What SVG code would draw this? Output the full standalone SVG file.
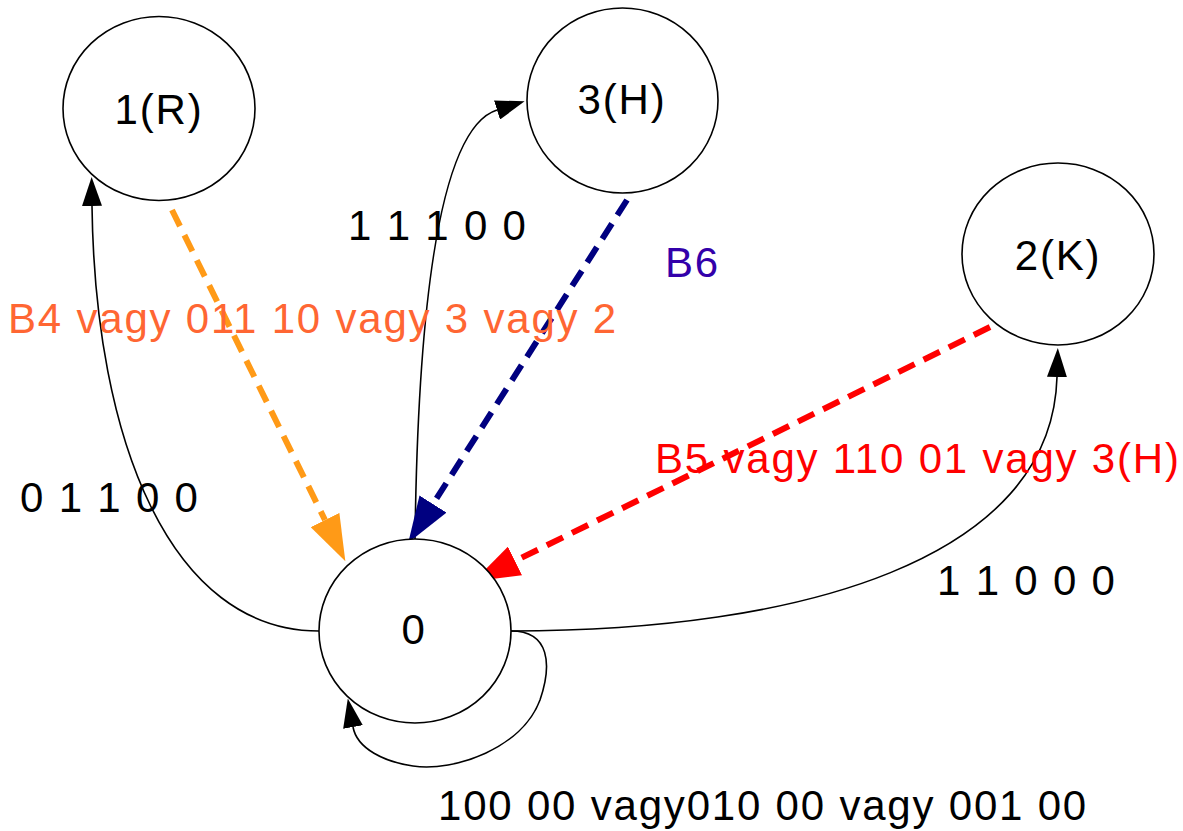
<svg xmlns="http://www.w3.org/2000/svg" width="1183" height="831" viewBox="0 0 1183 831">
<style>
text{font-family:"Liberation Sans",Arial,sans-serif;font-size:42px;letter-spacing:1.8px}
.node ellipse{fill:#fff;stroke:#000;stroke-width:1.6}
.node text{text-anchor:middle;fill:#000}
.edge{fill:none;stroke:#000;stroke-width:1.6}
.dash{fill:none;stroke-width:6;stroke-dasharray:18 10}
</style>
<defs>
<marker id="ab" viewBox="0 0 29 20" refX="0" refY="10" markerWidth="29" markerHeight="20" markerUnits="userSpaceOnUse" orient="auto"><path d="M0,0 L29,10 L0,20 z" fill="#000"/></marker>
<marker id="ao" viewBox="0 0 46 32" refX="0" refY="16" markerWidth="46" markerHeight="32" markerUnits="userSpaceOnUse" orient="auto"><path d="M0,0 L46,16 L0,32 z" fill="#FF9A17"/></marker>
<marker id="an" viewBox="0 0 46 32" refX="0" refY="16" markerWidth="46" markerHeight="32" markerUnits="userSpaceOnUse" orient="auto"><path d="M0,0 L46,16 L0,32 z" fill="#000080"/></marker>
<marker id="ar" viewBox="0 0 46 32" refX="0" refY="16" markerWidth="46" markerHeight="32" markerUnits="userSpaceOnUse" orient="auto"><path d="M0,0 L46,16 L0,32 z" fill="#FF0000"/></marker>
</defs>
<rect width="1183" height="831" fill="#fff"/>
<g id="connectors">
<path class="edge" d="M319,631 C170,631 95,440 92,206" marker-end="url(#ab)"/>
<path class="edge" d="M415,540 C418,300 440,128 497,110" marker-end="url(#ab)"/>
<path class="edge" d="M511,631 C800,631 1052,560 1057,377" marker-end="url(#ab)"/>
<path class="edge" d="M511,631 C550,631 552,665 540,700 C522,748 455,772 413,766 C385,762 357,749 353,727" marker-end="url(#ab)"/>
<line class="dash" x1="172" y1="210" x2="325" y2="520" stroke="#FF9A17" marker-end="url(#ao)"/>
<line class="dash" x1="627" y1="200" x2="433" y2="504" stroke="#000080" marker-end="url(#an)"/>
<line class="dash" x1="990" y1="327" x2="515" y2="561" stroke="#FF0000" marker-end="url(#ar)"/>
<text x="20" y="512" fill="#000">0 1 1 0 0</text>
<text x="348" y="240" fill="#000">1 1 1 0 0</text>
<text x="937" y="595" fill="#000">1 1 0 0 0</text>
<text x="438" y="820" fill="#000">100 00 vagy010 00 vagy 001 00</text>
<text x="665" y="277" fill="#3300AA">B6</text>
<text x="8" y="333" fill="#FF6633">B4 vagy 011 10 vagy 3 vagy 2</text>
<text x="655" y="473" fill="#FF0000">B5 vagy 110 01 vagy 3(H)</text>
</g>
<g id="node-1R" class="node"><ellipse cx="159" cy="108.5" rx="96" ry="92"/><text x="159" y="124">1(R)</text></g>
<g id="node-3H" class="node"><ellipse cx="622.5" cy="100.5" rx="95.5" ry="92.5"/><text x="622" y="114">3(H)</text></g>
<g id="node-2K" class="node"><ellipse cx="1058" cy="254" rx="96" ry="91"/><text x="1058" y="270">2(K)</text></g>
<g id="node-0" class="node"><ellipse cx="415" cy="631" rx="96" ry="92"/><text x="414" y="644">0</text></g>
</svg>
